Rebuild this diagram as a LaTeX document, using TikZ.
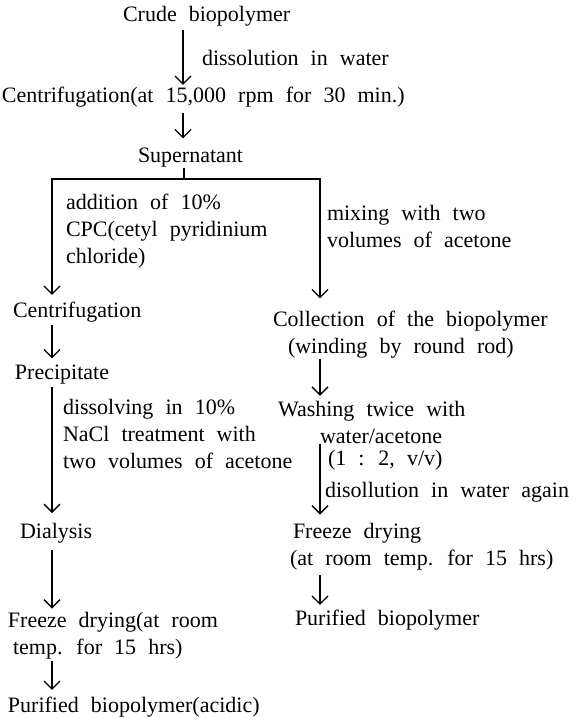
\documentclass[tikz,border=0pt]{standalone}
\usepackage{fontspec}
\setmainfont{Liberation Serif}[WordSpace=2.2]
\usetikzlibrary{arrows.meta}
\begin{document}
\begin{tikzpicture}[x=.5pt, y=-.5pt, every node/.style={inner sep=0, outer sep=0, anchor=west, align=left, font=\fontsize{11}{13.5}\selectfont},
	flow/.style={-{Straight Barb[length=4pt,width=8pt]}, line width=.65pt}]
	\useasboundingbox (0,0) rectangle (585,719);
	\coordinate (top) at (183,0);
	\coordinate (lcol) at (52,0);
	\coordinate (rcol) at (320,0);
	\coordinate (split) at (184,179);
	% steps
	\node (crude) at (123,16) {Crude biopolymer};
	\node (cent1) at (2,97) {Centrifugation(at 15,000 rpm for 30 min.)};
	\node (super) at (138,158) {Supernatant};
	\node (cent2) at (13,312) {Centrifugation};
	\node (prec) at (15,375) {Precipitate};
	\node (dial) at (20,533) {Dialysis};
	\node (fd1) at (8,636) {Freeze drying(at room\\\hspace*{2.5pt}temp. for 15 hrs)};
	\node (pur1) at (8,707) {Purified biopolymer(acidic)};
	\node (coll) at (273,335) {Collection of the biopolymer\\\hspace*{7.5pt}(winding by round rod)};
	\node (wash) at (278,422) {Washing twice with\\\hspace*{21pt}water/acetone};
	\node (fd2) at (290,547) {\hspace*{1.5pt}Freeze drying\\(at room temp. for 15 hrs)};
	\node (pur2) at (295,620) {Purified biopolymer};
	% treatments
	\node (diss) at (202,58) {dissolution in water};
	\node (add) at (66,231) {addition of 10\%\\CPC(cetyl pyridinium\\chloride)};
	\node (mix) at (327,226) {mixing with two\\volumes of acetone};
	\node (dsv) at (63,434) {dissolving in 10\%\\NaCl treatment with\\two volumes of acetone};
	\node (ratio) at (328,460) {(1 : 2, v/v)};
	\node (again) at (325,492) {disollution in water again};
	% arrows
	\draw[flow, shorten <=2pt, shorten >=1pt] (crude.south -| top) -- (cent1.north -| top);
	\draw[flow, shorten <=3pt, shorten >=5pt] (cent1.south -| top) -- (super.north -| top);
	\draw[line width=.65pt] (super.south -| split) -- (split);
	\draw[flow, shorten >=3.5pt] (split) -| (cent2.north -| lcol);
	\draw[flow, shorten >=6.5pt] (split) -| (coll.north -| rcol);
	\draw[flow, shorten <=1.5pt, shorten >=3.5pt] (cent2.south -| lcol) -- (prec.north -| lcol);
	\draw[flow, shorten <=1pt, shorten >=5pt] (prec.south -| lcol) -- (dial.north -| lcol);
	\draw[flow, shorten <=3.5pt, shorten >=2pt] (dial.south -| lcol) -- (fd1.north -| lcol);
	\draw[flow, shorten <=1pt, shorten >=3.5pt] (fd1.south -| lcol) -- (pur1.north -| lcol);
	\draw[flow, shorten >=2.5pt] (coll.south -| rcol) -- (wash.north -| rcol);
	\draw[flow, shorten <=.5pt, shorten >=4.5pt] (wash.south -| rcol) -- (fd2.north -| rcol);
	\draw[flow, shorten <=2.5pt, shorten >=2.5pt] (fd2.south -| rcol) -- (pur2.north -| rcol);
\end{tikzpicture}
\end{document}
